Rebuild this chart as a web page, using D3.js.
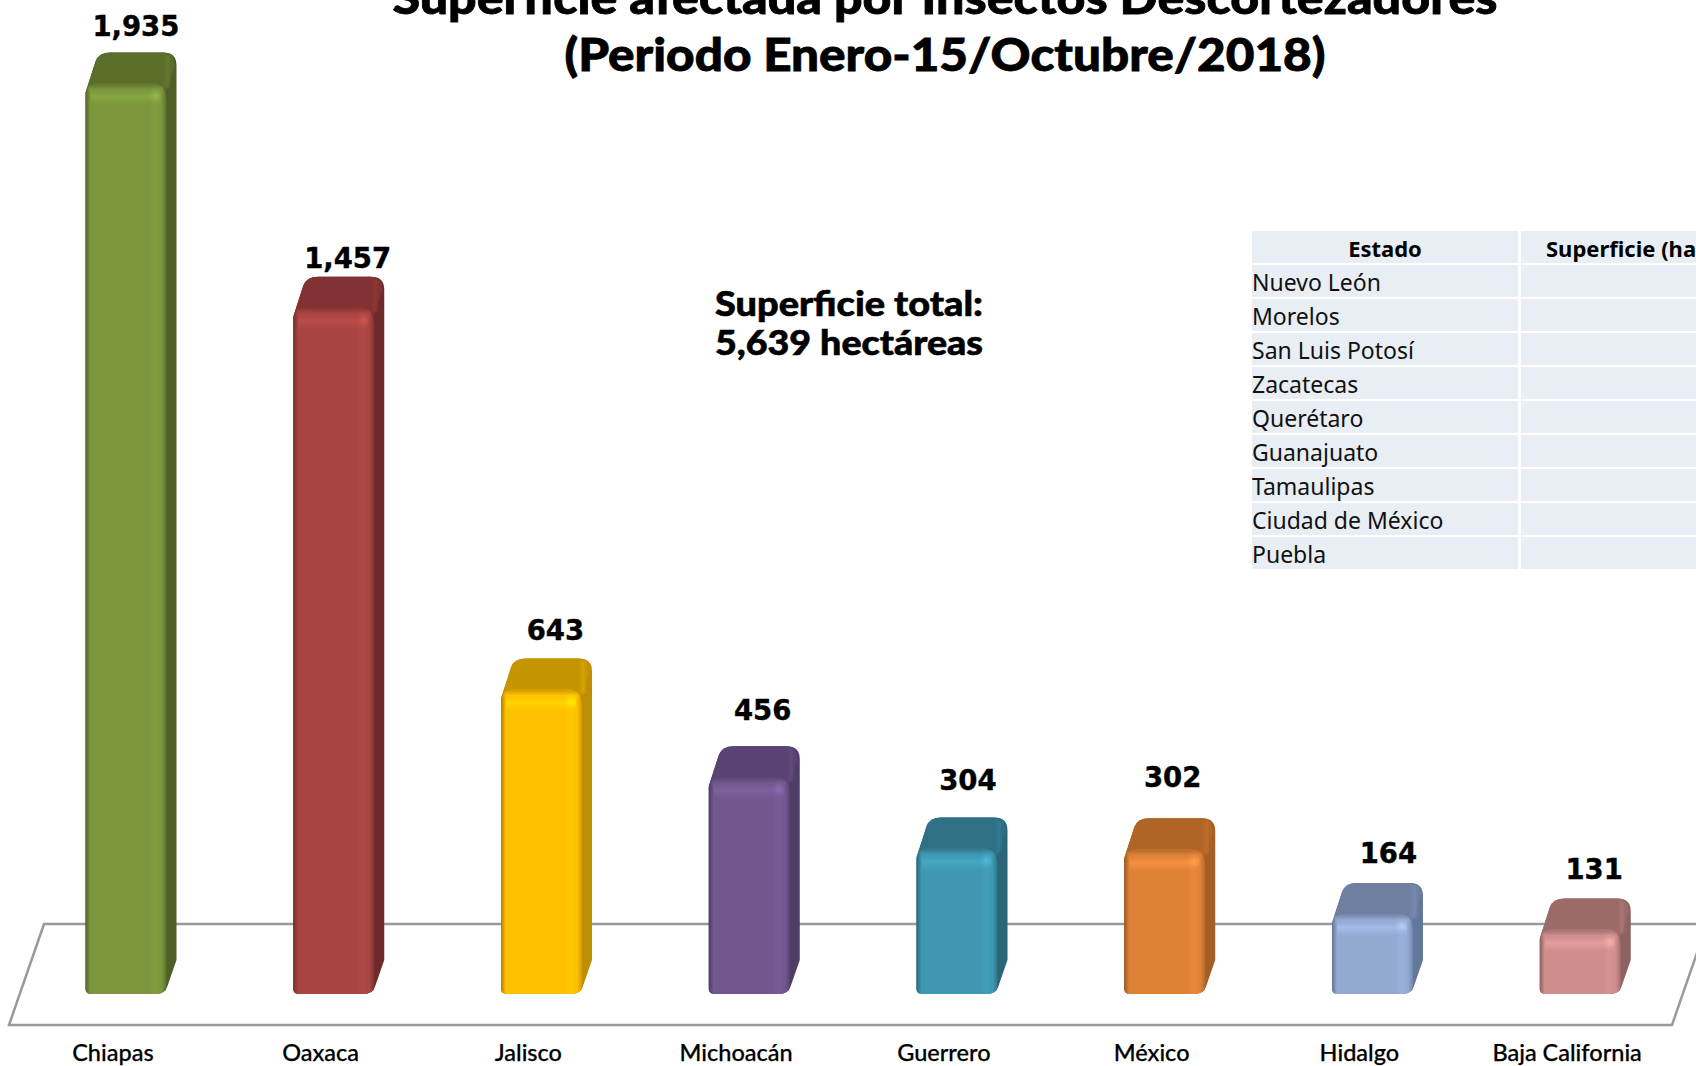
<!DOCTYPE html>
<html lang="es">
<head>
<meta charset="utf-8">
<title>Superficie afectada por Insectos Descortezadores</title>
<script src="https://d3js.org/d3.v7.min.js"></script>
<style>
html, body { margin: 0; padding: 0; background: #fff; overflow: hidden; }
svg { display: block; }
</style>
</head>
<body>
<script>
// data
var categories = ["Chiapas", "Oaxaca", "Jalisco", "Michoacán", "Guerrero", "México", "Hidalgo", "Baja California"];
var values = [1935, 1457, 643, 456, 304, 302, 164, 131];
var tableStates = ["Nuevo León", "Morelos", "San Luis Potosí", "Zacatecas", "Querétaro", "Guanajuato", "Tamaulipas", "Ciudad de México", "Puebla"];
var tableHeader = ["Estado", "Superficie (ha)"];
var titleLines = ["Superficie afectada por Insectos Descortezadores", "(Periodo Enero-15/Octubre/2018)"];
var totalLines = ["Superficie total:", "5,639 hectáreas"];

// styles
var frontColors = ["#7b963c", "#a84542", "#ffc000", "#725790", "#3f97b2", "#de8238", "#93a9d2", "#cf8d8d"];
var topColors = ["#5a6e2c", "#823230", "#c49500", "#5a4272", "#2d6f84", "#b06528", "#6e7fa0", "#9d6b6b"];
var sideColors = ["#4f6027", "#6d2b2a", "#bc8e00", "#503d68", "#2b6578", "#a45f27", "#64779a", "#8f6262"];
// the value labels were nudged by hand in the original
var labelShiftX = [23, 27, 27, 26.5, 24, 21, 29, 27];
var labelGap = [17, 9, 18, 26, 27, 31, 20, 20];

var width = 1696, height = 1066;
var baseY = 994, depthX = 10, depthY = 34, barOffset = 76.5, barWidth = 81;

var svg = d3.select("body").append("svg")
  .attr("width", width)
  .attr("height", height);
var defs = svg.append("defs");
defs.append("filter").attr("id", "soft")
  .attr("x", "-5%").attr("y", "-5%").attr("width", "110%").attr("height", "110%")
  .append("feGaussianBlur").attr("stdDeviation", 0.7);
defs.append("filter").attr("id", "spot")
  .attr("x", "-100%").attr("y", "-100%").attr("width", "300%").attr("height", "300%")
  .append("feGaussianBlur").attr("stdDeviation", 2);

var xScale = d3.scaleBand().domain(categories).range([9, 1671]);
var yScale = d3.scaleLinear().domain([0, 1935]).range([baseY, 86.5]);

// title
svg.append("g").selectAll("text")
  .data(titleLines)
  .enter().append("text")
  .attr("x", 945)
  .attr("y", function(d, i) { return 14 + i * 57; })
  .attr("text-anchor", "middle")
  .attr("textLength", function(d, i) { return i == 0 ? 1105 : 761; })
  .attr("lengthAdjust", "spacingAndGlyphs")
  .attr("font-family", "Lato, 'Open Sans', sans-serif")
  .attr("font-weight", 900)
  .attr("font-size", "46px")
  .attr("stroke", "#000")
  .attr("stroke-width", 0.8)
  .attr("fill", "#000")
  .text(function(d) { return d; });

// floor
var floorLine = d3.line();
svg.append("path")
  .attr("d", floorLine([[1707, 924], [44, 924], [9, 1025], [1672, 1025], [1707, 924]]))
  .attr("fill", "none")
  .attr("stroke", "#999")
  .attr("stroke-width", 2.5);

// total
svg.append("g").selectAll("text")
  .data(totalLines)
  .enter().append("text")
  .attr("x", 849)
  .attr("y", function(d, i) { return 316 + i * 39; })
  .attr("text-anchor", "middle")
  .attr("textLength", 268)
  .attr("lengthAdjust", "spacingAndGlyphs")
  .attr("font-family", "Lato, sans-serif")
  .attr("font-weight", 900)
  .attr("font-size", "35px")
  .attr("stroke", "#000")
  .attr("stroke-width", 0.6)
  .attr("fill", "#000")
  .text(function(d) { return d; });

// table
var rowY = d3.scaleBand()
  .domain(d3.range(tableStates.length + 1))
  .range([231, 231 + 34 * (tableStates.length + 1)]);
var table = svg.append("g");
var rows = table.selectAll("g")
  .data(["header"].concat(tableStates))
  .enter().append("g")
  .attr("transform", function(d, i) { return "translate(0," + rowY(i) + ")"; });
rows.append("rect").attr("x", 1252).attr("width", 266).attr("height", 32).attr("fill", "#e9edf4");
rows.append("rect").attr("x", 1521).attr("width", 175).attr("height", 32).attr("fill", "#e9edf4");
rows.filter(function(d, i) { return i > 0; }).append("text")
  .attr("x", 1252)
  .attr("y", 26)
  .attr("font-family", "'Noto Sans', sans-serif")
  .attr("font-size", "23px")
  .attr("fill", "#111")
  .text(function(d) { return d; });
var head = rows.filter(function(d, i) { return i == 0; });
head.append("text")
  .attr("x", 1385).attr("y", 26).attr("text-anchor", "middle")
  .attr("font-family", "'Noto Sans', sans-serif").attr("font-weight", 700).attr("font-size", "22px")
  .text(tableHeader[0]);
head.append("text")
  .attr("x", 1546).attr("y", 26)
  .attr("font-family", "'Noto Sans', sans-serif").attr("font-weight", 700).attr("font-size", "22px")
  .text(tableHeader[1]);

// gradient helpers
function makeGradient(id, vertical, stops) {
  var g = defs.append("linearGradient")
    .attr("id", id)
    .attr("x1", 0).attr("y1", 0)
    .attr("x2", vertical ? 0 : 1).attr("y2", vertical ? 1 : 0);
  stops.forEach(function(s) {
    g.append("stop").attr("offset", s[0]).attr("stop-color", s[1]).attr("stop-opacity", s[2] == null ? 1 : s[2]);
  });
}

categories.forEach(function(cat, i) {
  var base = frontColors[i];
  var dark = d3.color(base).darker(1.1).formatHex();
  var light = d3.color(base).brighter(0.12).formatHex();
  var lighter = d3.color(base).brighter(0.4).formatHex();
  makeGradient("front" + i, false, [[0, dark], [0.06, base], [0.78, base], [0.86, light], [0.94, base], [1, d3.interpolateRgb(base, sideColors[i])(0.7)]]);
  makeGradient("bevel" + i, true, [[0, base, 0], [0.5, lighter, 0.7], [1, lighter, 0]]);
  makeGradient("fade" + i, true, [[0, topColors[i], 0.9], [1, topColors[i], 0]]);
  makeGradient("topbevel" + i, false, [[0, topColors[i], 0], [0.6, d3.color(topColors[i]).brighter(0.35).formatHex(), 0.7], [1, sideColors[i], 0]]);
});

// bars
var bars = svg.append("g").selectAll("g")
  .data(categories)
  .enter().append("g")
  .attr("filter", "url(#soft)");

bars.each(function(cat, i) {
  var x0 = xScale(cat) + barOffset;
  var x1 = x0 + barWidth;
  var top = yScale(values[i]);
  var g = d3.select(this);
  var r = 13;

  // outline of the whole block, painted as the side face
  var outline = d3.path();
  outline.moveTo(x0, baseY - 5);
  outline.lineTo(x0, top + 6);
  outline.lineTo(x0 + depthX, top - depthY + 9);
  outline.quadraticCurveTo(x0 + depthX + 3, top - depthY, x0 + depthX + r + 2, top - depthY);
  outline.lineTo(x1 + depthX - r, top - depthY);
  outline.quadraticCurveTo(x1 + depthX, top - depthY, x1 + depthX, top - depthY + r);
  outline.lineTo(x1 + depthX, baseY - depthY);
  outline.lineTo(x1 + 1, baseY - 8);
  outline.quadraticCurveTo(x1 - 1, baseY, x1 - 11, baseY);
  outline.lineTo(x0 + 6, baseY);
  outline.quadraticCurveTo(x0, baseY, x0, baseY - 5);
  outline.closePath();
  g.append("path").attr("d", outline.toString()).attr("fill", sideColors[i]);

  // top face
  var topFace = d3.path();
  topFace.moveTo(x0, top + 6);
  topFace.lineTo(x0 + depthX, top - depthY + 9);
  topFace.quadraticCurveTo(x0 + depthX + 3, top - depthY, x0 + depthX + r + 2, top - depthY);
  topFace.lineTo(x1 + depthX - r - 1, top - depthY);
  topFace.quadraticCurveTo(x1 + depthX - 2, top - depthY, x1 + depthX - 2, top - depthY + r);
  topFace.lineTo(x1 - 1, top + 6);
  topFace.closePath();
  g.append("path").attr("d", topFace.toString()).attr("fill", topColors[i]);

  // soft edge between top and side
  g.append("rect")
    .attr("x", x1 - 6).attr("y", top - depthY + 3)
    .attr("width", depthX + 3).attr("height", depthY - 2)
    .attr("fill", "url(#topbevel" + i + ")");

  // front face
  var front = d3.path();
  front.moveTo(x0, baseY - 5);
  front.lineTo(x0, top + 8);
  front.quadraticCurveTo(x0 + 1, top - 3, x0 + 12, top - 3);
  front.lineTo(x1 - r, top - 3);
  front.quadraticCurveTo(x1 - 1, top - 3, x1, top + r);
  front.lineTo(x1, baseY - 8);
  front.quadraticCurveTo(x1 - 1, baseY, x1 - 11, baseY);
  front.lineTo(x0 + 6, baseY);
  front.quadraticCurveTo(x0, baseY, x0, baseY - 5);
  front.closePath();
  g.append("path").attr("d", front.toString()).attr("fill", "url(#front" + i + ")");

  // fade the hard edge where the top face meets the front
  g.append("rect")
    .attr("x", x0 + 4).attr("y", top - 3)
    .attr("width", barWidth - 8).attr("height", 6)
    .attr("fill", "url(#fade" + i + ")");

  // highlight along the top of the front face
  g.append("rect")
    .attr("x", x0 + 5).attr("y", top + 1)
    .attr("width", barWidth - 11).attr("height", 18)
    .attr("fill", "url(#bevel" + i + ")");
  g.append("circle")
    .attr("cx", x1 - 11).attr("cy", top + 9).attr("r", 3)
    .attr("fill", d3.color(frontColors[i]).brighter(0.7).formatHex())
    .attr("filter", "url(#spot)");
});

// value labels
svg.append("g").selectAll("text")
  .data(values)
  .enter().append("text")
  .attr("x", function(d, i) { return xScale(categories[i]) + xScale.bandwidth() / 2 + labelShiftX[i]; })
  .attr("y", function(d, i) { return yScale(d) - depthY - labelGap[i]; })
  .attr("text-anchor", "middle")
  .attr("font-family", "'DejaVu Sans', sans-serif")
  .attr("font-weight", 700)
  .attr("font-size", "27.5px")
  .attr("stroke", "#000")
  .attr("stroke-width", 0.4)
  .attr("fill", "#000")
  .text(d3.format(","));

// category axis
var xAxis = d3.axisBottom(xScale).tickSize(0).tickPadding(0);
var axisGroup = svg.append("g")
  .attr("transform", "translate(0,1044)")
  .call(xAxis);
axisGroup.select(".domain").remove();
axisGroup.selectAll("text")
  .attr("font-family", "Lato, sans-serif")
  .attr("font-weight", 500)
  .attr("font-size", "23.5px")
  .attr("stroke", "#000")
  .attr("stroke-width", 0.25)
  .attr("fill", "#000");
</script>
</body>
</html>
